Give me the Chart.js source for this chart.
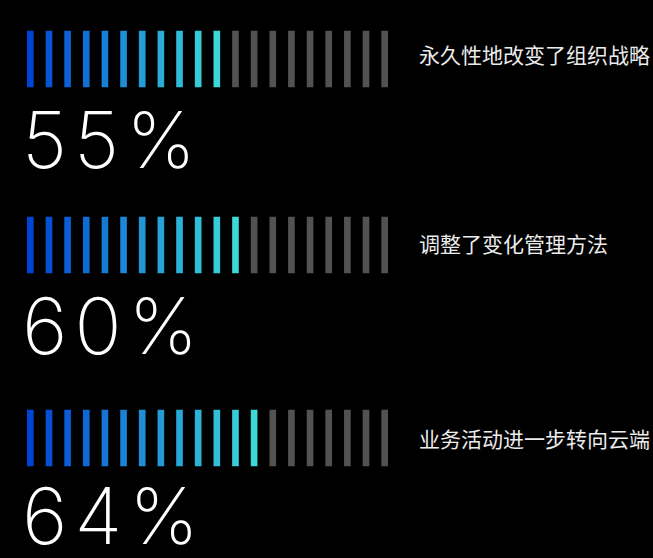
<!DOCTYPE html>
<html>
<head>
<meta charset="utf-8">
<script src="https://cdn.jsdelivr.net/npm/chart.js@4/dist/chart.umd.min.js"></script>
<style>
  html, body { margin: 0; padding: 0; background: #000; width: 653px; height: 558px; overflow: hidden; }
  .row-chart { position: absolute; }
  .pct { position: absolute; left: 22px; color: #fff; font-family: Inter, "Open Sans", sans-serif; font-weight: 200; font-size: 78px; line-height: 1; letter-spacing: 7px; white-space: nowrap; }
  .lbl { position: absolute; left: 419px; color: #ececec; font-family: "Noto Sans CJK SC", sans-serif; font-size: 21px; line-height: 24px; white-space: nowrap; }
</style>
</head>
<body>
<script>
// ---- data ----
const categories = ['永久性地改变了组织战略', '调整了变化管理方法', '业务活动进一步转向云端'];
const percents = [55, 60, 64];
const segmentCount = 20;

// ---- styling / layout ----
const startColor = [0, 68, 212];
const endColor = [60, 216, 216];
const grayColor = '#525252';
const barTops = [30, 216, 409];
const pctTops = [101, 287, 477];
const lblCenters = [54, 243, 438];

function mix(t) {
  const c = startColor.map((s, i) => Math.round(s + (endColor[i] - s) * t));
  return `rgb(${c[0]},${c[1]},${c[2]})`;
}

categories.forEach((cat, r) => {
  const filled = Math.round(percents[r] / 100 * segmentCount);
  const segLabels = Array.from({ length: segmentCount }, (_, i) => String(i + 1));
  const segValues = segLabels.map(() => 1);
  const colors = segLabels.map((_, i) => i < filled ? mix(filled > 1 ? i / (filled - 1) : 0) : grayColor);
  const borders = segLabels.map((_, i) => i < filled ? 'rgba(0,0,0,0.35)' : 'rgba(0,0,0,0.2)');

  const canvas = document.createElement('canvas');
  canvas.className = 'row-chart';
  canvas.width = 373; canvas.height = 58;
  canvas.style.left = '21px';
  canvas.style.top = barTops[r] + 'px';
  canvas.style.width = '373px'; canvas.style.height = '58px';
  document.body.appendChild(canvas);

  new Chart(canvas, {
    type: 'bar',
    data: {
      labels: segLabels,
      datasets: [{
        data: segValues,
        backgroundColor: colors,
        borderColor: borders,
        borderWidth: 1,
        barThickness: 8,
        borderSkipped: false
      }]
    },
    options: {
      responsive: false,
      animation: false,
      devicePixelRatio: 1,
      layout: { padding: 0 },
      plugins: { legend: { display: false }, tooltip: { enabled: false } },
      scales: {
        x: { display: false, offset: true },
        y: { display: false, min: 0, max: 1 }
      }
    }
  });

  const pct = document.createElement('div');
  pct.className = 'pct';
  pct.style.top = pctTops[r] + 'px';
  pct.textContent = percents[r] + '%';
  document.body.appendChild(pct);

  const lbl = document.createElement('div');
  lbl.className = 'lbl';
  lbl.style.top = (lblCenters[r] - 12) + 'px';
  lbl.textContent = cat;
  document.body.appendChild(lbl);
});
</script>
</body>
</html>
